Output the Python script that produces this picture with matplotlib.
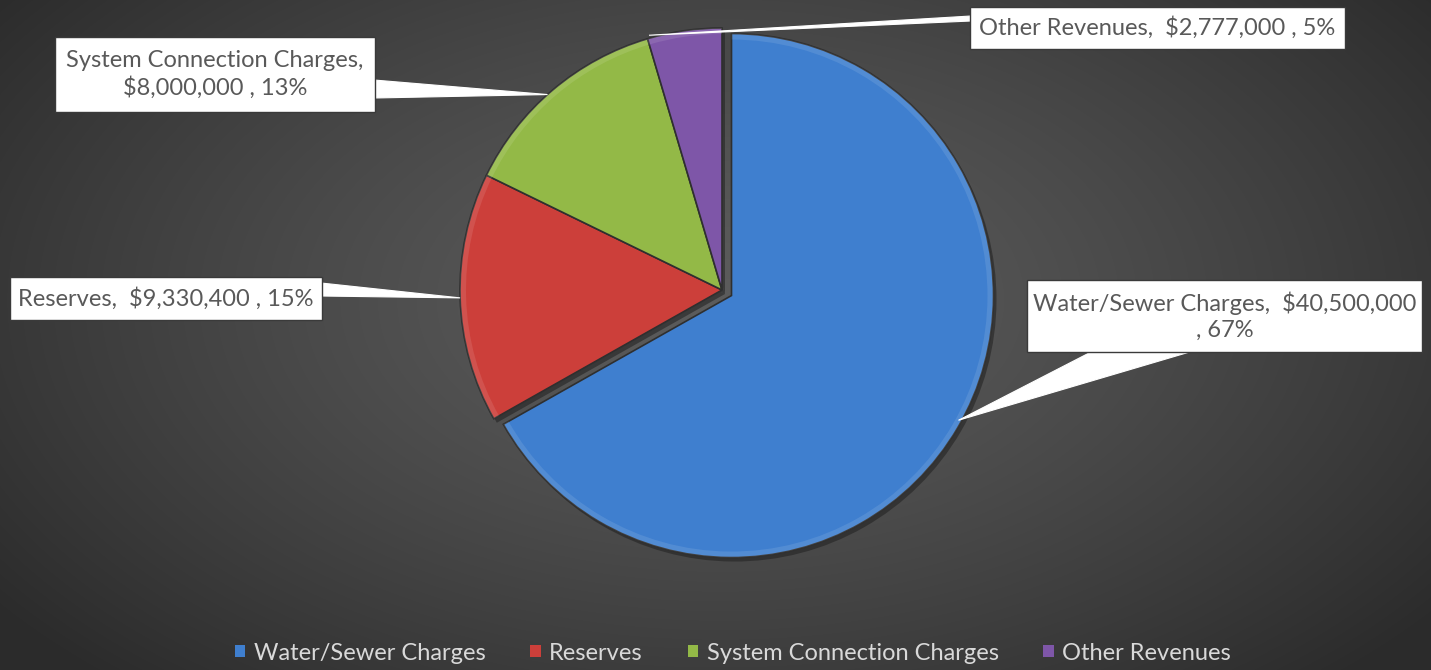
import numpy as np
import matplotlib
matplotlib.use("Agg")
import matplotlib.pyplot as plt
from matplotlib.patches import Rectangle, Polygon, Wedge

# ---- data ----
categories = ["Water/Sewer Charges", "Reserves", "System Connection Charges", "Other Revenues"]
values = [40500000, 9330400, 8000000, 2777000]
percent_labels = ["67%", "15%", "13%", "5%"]
colors = ["#3f7fcf", "#cc3f3a", "#93b947", "#7e56a8"]

W, H = 1431, 670
plt.rcParams['font.family'] = ['Lato', 'DejaVu Sans']

fig = plt.figure(figsize=(W / 100, H / 100), dpi=100)

# background radial gradient
bg = fig.add_axes([0, 0, 1, 1])
yy, xx = np.mgrid[0:H, 0:W]
d = np.sqrt(((xx - 720) / 900.0) ** 2 + ((yy - 300) / 520.0) ** 2)
d = np.clip(d, 0, 1)
c0, c1 = 0.36, 0.17
img = c0 + (c1 - c0) * d ** 1.3
bg.imshow(np.dstack([img, img, img]), extent=[0, W, 0, H], origin='upper', aspect='auto')
bg.set_axis_off()

ax = fig.add_axes([0, 0, 1, 1])
ax.patch.set_alpha(0)

def Y(y):
    return H - y

cx, cy, R = 722, Y(290), 262
explode = [11, 0, 0, 0]   # in pixel units (matplotlib explode is absolute)

# soft shadow
sh_wedges, _ = ax.pie(values, startangle=90, counterclock=False, center=(cx + 3, cy - 4),
                      radius=R, explode=explode, colors=["#202020"] * 4,
                      wedgeprops=dict(linewidth=0, alpha=0.55), frame=True)
for w in sh_wedges:
    w.set_zorder(1)

wedges, _ = ax.pie(values, startangle=90, counterclock=False, center=(cx, cy), radius=R,
                   explode=explode, colors=colors,
                   wedgeprops=dict(edgecolor="#2f2f2f", linewidth=1.2), frame=True)
for w in wedges:
    w.set_zorder(2)
    hl = Wedge(w.center, w.r, w.theta1, w.theta2, width=6, facecolor="white", alpha=0.10,
               edgecolor="none", zorder=3)
    ax.add_patch(hl)

ax.set_xlim(0, W)
ax.set_ylim(0, H)
ax.set_aspect('equal')
ax.set_axis_off()

def edge_point(w, ang, extra=0):
    a = np.deg2rad(ang)
    return (w.center[0] + (w.r + extra) * np.cos(a), w.center[1] + (w.r + extra) * np.sin(a))

def mid(w):
    return 0.5 * (w.theta1 + w.theta2)

def fmt(v):
    return "${:,}".format(v)

txt_color = "#595959"
fs = 17

boxes = {
    0: (1027, 280, 1422, 352),
    1: (10, 277, 322, 320),
    2: (55, 37, 375, 112),
    3: (970, 7, 1345, 49),
}
texts = {
    0: "Water/Sewer Charges,  {}\n, {}".format(fmt(values[0]), percent_labels[0]),
    1: "Reserves,  {} , {}".format(fmt(values[1]), percent_labels[1]),
    2: "System Connection Charges,\n{} , {}".format(fmt(values[2]), percent_labels[2]),
    3: "Other Revenues,  {} , {}".format(fmt(values[3]), percent_labels[3]),
}

tips = {
    0: edge_point(wedges[0], mid(wedges[0]) + 1.5, -3),
    1: edge_point(wedges[1], mid(wedges[1]), 0),
    2: edge_point(wedges[2], mid(wedges[2]) + 1.5, 0),
    3: edge_point(wedges[3], wedges[3].theta2 - 0.5, 3),
}
bases = {
    0: [(1093, 351), (1193, 351)],
    1: [(321, 283), (321, 296)],
    2: [(374, 80), (374, 98)],
    3: [(971, 16), (971, 21)],
}
for i in range(4):
    tx, ty = tips[i]
    pts = [(tx, ty)] + [(bx, Y(by)) for bx, by in bases[i]]
    ax.add_patch(Polygon(pts, closed=True, facecolor="white", edgecolor="white",
                         linewidth=0.8, zorder=4))
    x0, y0, x1, y1 = boxes[i]
    ax.add_patch(Rectangle((x0, Y(y1)), x1 - x0, y1 - y0, facecolor="white",
                           edgecolor="#3a3a3a", linewidth=1, zorder=5))
    ax.text((x0 + x1) / 2, Y((y0 + y1) / 2), texts[i], ha='center', va='center',
            color=txt_color, fontsize=fs, linespacing=1.3, zorder=6)

handles = [Rectangle((0, 0), 1, 1, facecolor=c, edgecolor='none') for c in colors]
leg = fig.legend(handles, categories, loc='center', bbox_to_anchor=(733 / W, 1 - 653 / H),
                 ncol=4, frameon=False, fontsize=17, labelcolor="#d9d9d9",
                 handlelength=0.45, handleheight=0.45, handletextpad=0.35, columnspacing=1.9)

fig.savefig("out.png", dpi=100)
